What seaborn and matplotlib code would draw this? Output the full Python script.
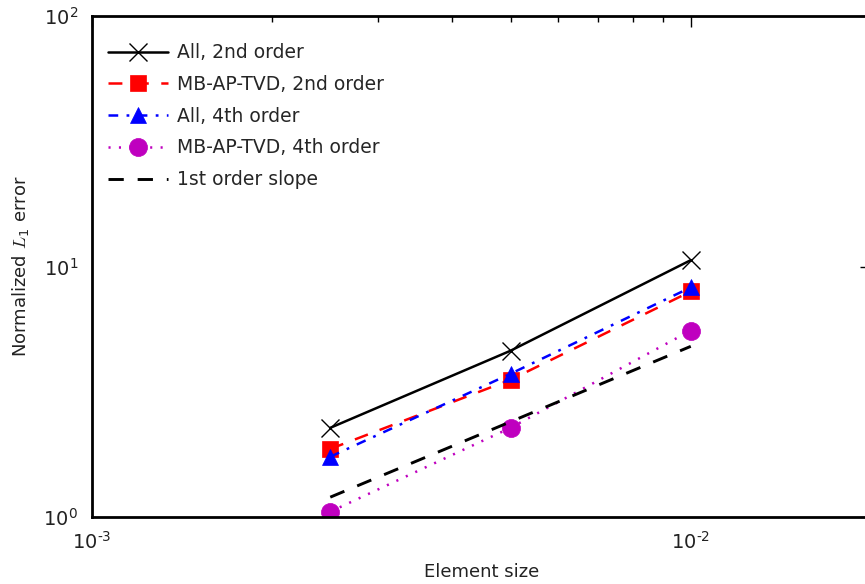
import matplotlib
matplotlib.use("Agg")
import matplotlib.pyplot as plt
import matplotlib.ticker as mticker
import numpy as np
import seaborn as sns

element_size = [0.0025, 0.005, 0.01]
all_2nd = [2.27, 4.61, 10.6]
mb_2nd = [1.87, 3.53, 7.95]
all_4th = [1.74, 3.73, 8.25]
mb_4th = [1.05, 2.27, 5.55]
slope_x = [0.0025, 0.01]
slope_y = [1.2, 4.8]

sns.set_style("white")
plt.rcParams['font.family'] = ['DejaVu Sans']
plt.rcParams['lines.scale_dashes'] = False
plt.rcParams['axes.unicode_minus'] = False
plt.rcParams['mathtext.fontset'] = 'custom'
plt.rcParams['mathtext.rm'] = 'DejaVu Sans'
plt.rcParams['mathtext.it'] = 'cmmi10'
plt.rcParams['mathtext.bf'] = 'DejaVu Sans:bold'

fig = plt.figure(figsize=(8.65, 5.84), dpi=100)
ax = fig.add_axes([92/865, (584-517)/584, (871-92)/865, (517-16)/584])

lw = 1.8
sns.lineplot(x=element_size, y=all_2nd, ax=ax, color='black', lw=lw, marker='x',
             markersize=13, markeredgewidth=1.0, markeredgecolor='black',
             label='All, 2nd order')
sns.lineplot(x=element_size, y=mb_2nd, ax=ax, color='red', lw=lw, marker='s',
             markersize=12, markeredgewidth=0.5, markeredgecolor='red',
             dashes=(10, 9), label='MB-AP-TVD, 2nd order')
sns.lineplot(x=element_size, y=all_4th, ax=ax, color='blue', lw=lw, marker='^',
             markersize=12, markeredgewidth=0.5, markeredgecolor='blue',
             dashes=(7, 6, 2, 6), label='All, 4th order')
sns.lineplot(x=element_size, y=mb_4th, ax=ax, color='m', lw=lw, marker='o',
             markersize=13, markeredgewidth=0.5, markeredgecolor='m',
             dashes=(1.5, 6), label='MB-AP-TVD, 4th order')
sns.lineplot(x=slope_x, y=slope_y, ax=ax, color='black', lw=lw + 0.3,
             dashes=(11, 10), label='1st order slope')

ax.set_xscale('log')
ax.set_yscale('log')
ax.set_xlim(1e-3, 2e-2)
ax.set_ylim(1, 100)


def pow_fmt(v, pos):
    e = int(round(np.log10(v)))
    return r'$\mathdefault{10^{\text{%d}}}$' % e


ax.xaxis.set_major_formatter(mticker.FuncFormatter(pow_fmt))
ax.yaxis.set_major_formatter(mticker.FuncFormatter(pow_fmt))

for s in ax.spines.values():
    s.set_linewidth(2.0)
    s.set_color('black')

ax.tick_params(which='both', direction='in', top=True, right=True,
               labelsize=14, colors='black', labelcolor='#222222')
ax.tick_params(which='major', length=8, width=1.0, pad=10)
ax.tick_params(which='minor', length=4, width=1.0)

ax.set_xlabel('Element size', fontsize=13, color='#222222', labelpad=7)
ax.set_ylabel('Normalized $L_1$ error', fontsize=13, color='#222222', labelpad=8)

leg = ax.legend(loc='upper left', bbox_to_anchor=(0.013, 0.957), frameon=False,
                fontsize=13.5, handlelength=3.2, labelspacing=0.68,
                borderaxespad=0.0, handletextpad=0.5, borderpad=0.3)

fig.savefig('out.png', dpi=100)
